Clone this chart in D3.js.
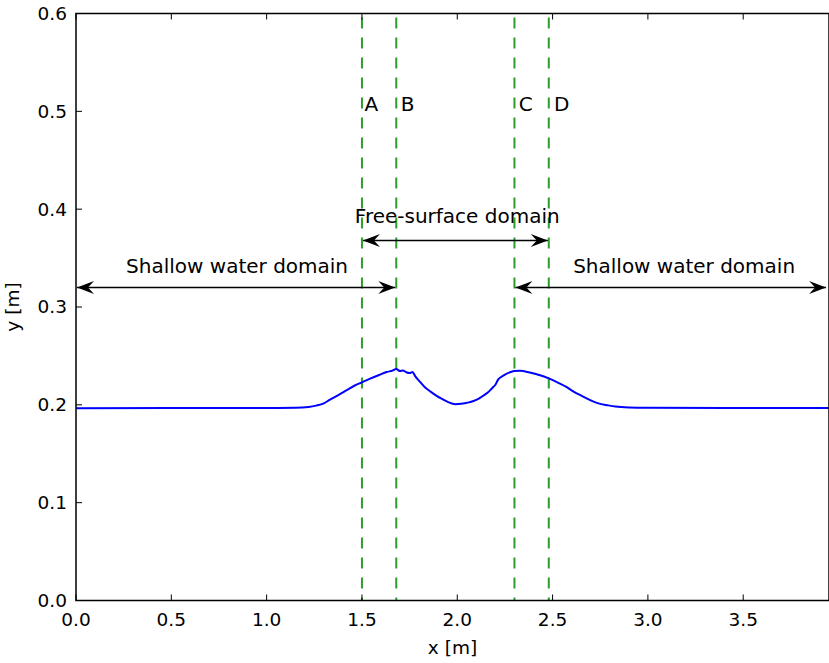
<!DOCTYPE html>
<html>
<head>
<meta charset="utf-8">
<script src="https://cdn.jsdelivr.net/npm/d3@7"></script>
<style>
  body { margin: 0; background: #fff; }
  text { font-family: "DejaVu Sans", sans-serif; }
</style>
</head>
<body>
<div id="chart"></div>
<script>
// free surface elevation
const surfaceX = [0, 0.5, 1.0, 1.15, 1.22, 1.26, 1.3, 1.33, 1.38, 1.42, 1.46, 1.5, 1.54, 1.59, 1.63, 1.66, 1.68, 1.70, 1.715, 1.735, 1.75, 1.765, 1.78, 1.80, 1.83, 1.86, 1.89, 1.915, 1.95, 1.99, 2.02, 2.06, 2.10, 2.13, 2.16, 2.185, 2.20, 2.215, 2.23, 2.255, 2.28, 2.30, 2.33, 2.38, 2.43, 2.48, 2.52, 2.57, 2.61, 2.66, 2.70, 2.74, 2.79, 2.83, 2.90, 3.0, 3.5, 3.95];
const surfaceY = [0.1965, 0.1967, 0.1968, 0.197, 0.1978, 0.1992, 0.2015, 0.205, 0.2105, 0.215, 0.2195, 0.223, 0.2265, 0.2305, 0.2335, 0.235, 0.2365, 0.2345, 0.2352, 0.233, 0.2325, 0.2335, 0.229, 0.2245, 0.218, 0.2135, 0.2095, 0.2065, 0.203, 0.2006, 0.201, 0.2025, 0.205, 0.2085, 0.2125, 0.2175, 0.2205, 0.226, 0.2285, 0.2315, 0.2335, 0.2345, 0.2348, 0.233, 0.2305, 0.227, 0.2235, 0.2185, 0.2135, 0.2085, 0.2045, 0.2015, 0.1995, 0.1982, 0.1973, 0.197, 0.1968, 0.1968];

// coupling interfaces
const interfaceX = [1.5, 1.68, 2.3, 2.48];
const interfaceLabels = ["A", "B", "C", "D"];
const labelX = [1.513, 1.703, 2.323, 2.508];
const labelY = 0.5;

// domain arrows: [x1, x2, y], text [x, y]
const domainArrows = [[0, 1.68, 0.32], [1.5, 2.48, 0.368], [2.3, 3.94, 0.32]];
const domainNames = ["Shallow water domain", "Free-surface domain", "Shallow water domain"];
const domainTextX = [0.845, 2.0, 3.19];
const domainTextY = [0.335, 0.386, 0.335];

const xTicks = [0, 0.5, 1.0, 1.5, 2.0, 2.5, 3.0, 3.5];
const yTicks = [0, 0.1, 0.2, 0.3, 0.4, 0.5, 0.6];

const W = 829, H = 663;
const margin = { top: 13.5, right: 0, bottom: 62.5, left: 76 },
    width = W - margin.left - margin.right,
    height = H - margin.top - margin.bottom;

const svg = d3.select("#chart").append("svg")
    .attr("width", W).attr("height", H);

const defs = svg.append("defs");
defs.append("clipPath").attr("id", "clip")
    .append("rect").attr("width", width + 1).attr("height", height);
defs.append("marker")
    .attr("id", "head")
    .attr("viewBox", "-18 -8 20 16")
    .attr("markerWidth", 20).attr("markerHeight", 16)
    .attr("markerUnits", "userSpaceOnUse")
    .attr("refX", 0).attr("refY", 0)
    .attr("orient", "auto-start-reverse")
    .append("path")
    .attr("d", "M0,0 L-17,-6.5 L-11,0 L-17,6.5 Z")
    .attr("fill", "#000");

const g = svg.append("g")
    .attr("transform", `translate(${margin.left},${margin.top})`);

const x = d3.scaleLinear().domain([0, 3.95]).range([0, width]);
const y = d3.scaleLinear().domain([0, 0.6]).range([height, 0]);

const plot = g.append("g").attr("clip-path", "url(#clip)");

// interface lines
plot.selectAll(".iface")
    .data(interfaceX)
    .enter().append("line")
    .attr("x1", d => x(d)).attr("x2", d => x(d))
    .attr("y1", 0).attr("y2", height)
    .attr("stroke", "#2a9d2a")
    .attr("stroke-width", 2)
    .attr("stroke-dasharray", "11,9")
    .attr("stroke-dashoffset", -4);

// free surface
plot.append("path")
    .datum(surfaceX.map((d, i) => [d, surfaceY[i]]))
    .attr("fill", "none")
    .attr("stroke", "#0000ff")
    .attr("stroke-width", 2)
    .attr("d", d3.line().curve(d3.curveMonotoneX).x(d => x(d[0])).y(d => y(d[1])));

// domain arrows
plot.selectAll(".arrow")
    .data(domainArrows)
    .enter().append("line")
    .attr("x1", d => x(d[0]) + 1).attr("x2", d => x(d[1]) - 1)
    .attr("y1", d => y(d[2])).attr("y2", d => y(d[2]))
    .attr("stroke", "#000")
    .attr("stroke-width", 1.5)
    .attr("marker-start", "url(#head)")
    .attr("marker-end", "url(#head)");

g.selectAll(".dname")
    .data(domainNames)
    .enter().append("text")
    .attr("x", (d, i) => x(domainTextX[i]))
    .attr("y", (d, i) => y(domainTextY[i]))
    .attr("text-anchor", "middle")
    .style("font-size", "20px")
    .text(d => d);

g.selectAll(".ilabel")
    .data(interfaceLabels)
    .enter().append("text")
    .attr("x", (d, i) => x(labelX[i]))
    .attr("y", y(labelY))
    .style("font-size", "20px")
    .text(d => d);

// frame
g.append("rect")
    .attr("width", width).attr("height", height)
    .attr("fill", "none").attr("stroke", "#000").attr("stroke-width", 1.5);

// ticks (inward, all four sides)
const tickLen = 6;
xTicks.forEach(t => {
    g.append("line").attr("x1", x(t)).attr("x2", x(t)).attr("y1", height).attr("y2", height - tickLen)
        .attr("stroke", "#000").attr("stroke-width", 1);
    g.append("line").attr("x1", x(t)).attr("x2", x(t)).attr("y1", 0).attr("y2", tickLen)
        .attr("stroke", "#000").attr("stroke-width", 1);
});
yTicks.forEach(t => {
    g.append("line").attr("x1", 0).attr("x2", tickLen).attr("y1", y(t)).attr("y2", y(t))
        .attr("stroke", "#000").attr("stroke-width", 1);
});

g.selectAll(".xt")
    .data(xTicks)
    .enter().append("text")
    .attr("x", d => x(d))
    .attr("y", height + 25)
    .attr("text-anchor", "middle")
    .style("font-size", "18.5px")
    .text(d => d3.format(".1f")(d));

g.selectAll(".yt")
    .data(yTicks)
    .enter().append("text")
    .attr("x", -9)
    .attr("y", d => y(d))
    .attr("dy", "0.35em")
    .attr("text-anchor", "end")
    .style("font-size", "18.5px")
    .text(d => d3.format(".1f")(d));

// axis labels
g.append("text")
    .attr("x", width / 2)
    .attr("y", height + 53)
    .attr("text-anchor", "middle")
    .style("font-size", "18.5px")
    .text("x [m]");

g.append("text")
    .attr("transform", `translate(${-57},${height / 2}) rotate(-90)`)
    .attr("text-anchor", "middle")
    .style("font-size", "18.5px")
    .text("y [m]");
</script>
</body>
</html>
